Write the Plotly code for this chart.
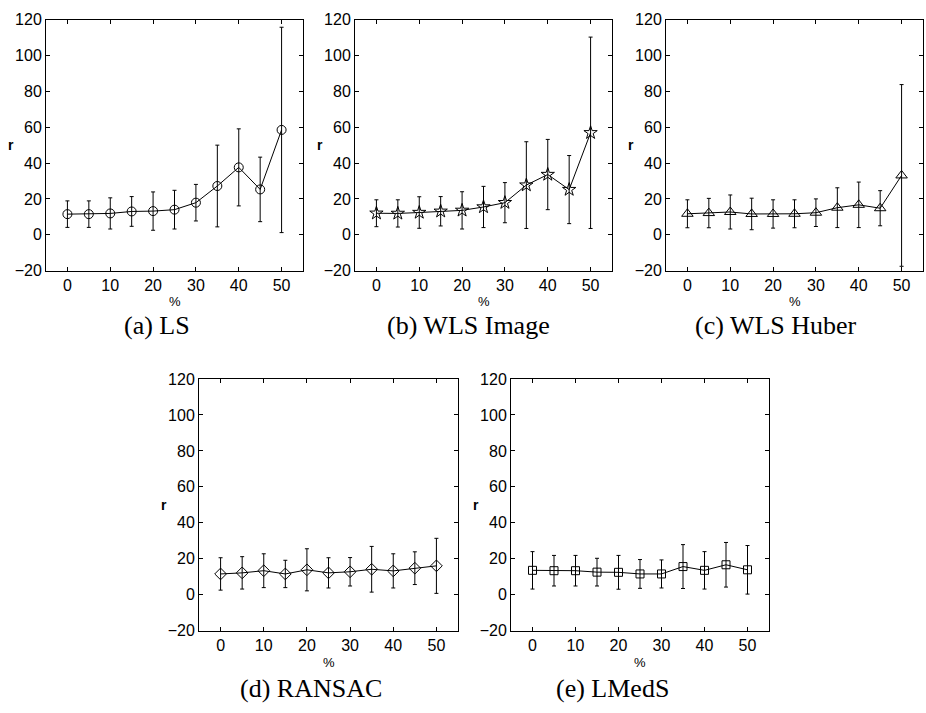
import plotly.graph_objs as go

W, H = 926, 713

pct = [0, 5, 10, 15, 20, 25, 30, 35, 40, 45, 50]

ls_mean = [11.5, 11.5, 11.9, 13.0, 13.2, 14.0, 17.9, 27.2, 37.6, 25.3, 58.5]
ls_err = [7.4, 7.4, 8.7, 8.3, 10.7, 10.8, 10.2, 22.8, 21.5, 18.0, 57.3]

wlsi_mean = [12.0, 11.9, 12.4, 13.1, 13.6, 15.5, 17.9, 27.7, 33.6, 25.2, 56.9]
wlsi_err = [7.5, 7.6, 8.8, 8.2, 10.4, 11.5, 11.2, 24.2, 19.6, 19.0, 53.4]

wlsh_mean = [11.7, 12.1, 12.7, 11.6, 11.6, 11.7, 12.3, 15.1, 16.7, 14.8, 33.1]
wlsh_err = [7.8, 8.2, 9.5, 8.8, 7.9, 7.8, 7.7, 11.1, 12.7, 9.8, 50.7]

ransac_mean = [11.6, 12.2, 13.4, 11.6, 13.9, 12.2, 12.8, 14.2, 13.3, 14.8, 16.1]
ransac_err = [9.0, 9.0, 9.4, 7.6, 11.7, 8.4, 7.9, 12.7, 9.5, 9.1, 15.3]

lmeds_mean = [13.6, 13.4, 13.4, 12.6, 12.5, 11.6, 11.6, 15.7, 13.6, 16.7, 13.9]
lmeds_err = [10.4, 8.5, 8.5, 7.7, 9.4, 8.0, 7.8, 12.2, 10.4, 12.4, 13.5]

xticks = [0, 10, 20, 30, 40, 50]
yticks = [-20, 0, 20, 40, 60, 80, 100, 120]

captions = ['(a) LS', '(b) WLS Image', '(c) WLS Huber', '(d) RANSAC', '(e) LMedS']

# panel boxes in px: left, right, top, bottom
boxes = [(46, 303, 12, 269), (355, 612, 12, 269), (666, 923, 12, 269),
         (199, 458, 380, 638), (511, 769, 380, 638)]
symbols = ['circle-open', 'star-open', 'triangle-up-open', 'diamond-open', 'square-open']
msizes = [9, 10, 10, 9, 8]
series = [(ls_mean, ls_err), (wlsi_mean, wlsi_err), (wlsh_mean, wlsh_err),
          (ransac_mean, ransac_err), (lmeds_mean, lmeds_err)]
cap_x = [157, 468, 776, 311, 612]
cap_y = [325, 325, 325, 697, 697]

tick_font = dict(family='Liberation Sans, Arial', size=16, color='black')


def note(text, px, py, size, family='Liberation Sans, Arial'):
    return dict(text=text, x=px / W, y=1 - py / H, xref='paper', yref='paper',
                xanchor='center', yanchor='middle', showarrow=False,
                font=dict(family=family, size=size, color='black'))


fig = go.Figure()
layout = dict(width=W, height=H, margin=dict(l=0, r=0, t=0, b=0),
              paper_bgcolor='white', plot_bgcolor='white', showlegend=False)
annotations = []

for i, (m, e) in enumerate(series):
    n = '' if i == 0 else str(i + 1)
    fig.add_trace(go.Scatter(x=pct, y=m, mode='lines+markers', xaxis='x' + n, yaxis='y' + n,
                             line=dict(color='black', width=1),
                             marker=dict(symbol=symbols[i], size=msizes[i], color='black',
                                         line=dict(color='black', width=1)),
                             error_y=dict(type='data', array=e, visible=True, color='black',
                                          thickness=1, width=2)))
    l, r, t, b = boxes[i]
    layout['xaxis' + n] = dict(domain=[l / W, r / W], anchor='y' + n, range=[-5, 55],
                               tickvals=xticks, ticks='inside', ticklen=4, tickcolor='black',
                               showline=True, linecolor='black', linewidth=1, mirror='ticks',
                               showgrid=False, zeroline=False, tickfont=tick_font)
    layout['yaxis' + n] = dict(domain=[1 - b / H, 1 - t / H], anchor='x' + n, range=[-20, 120],
                               tickvals=yticks, ticks='inside', ticklen=4, tickcolor='black',
                               showline=True, linecolor='black', linewidth=1, mirror='ticks',
                               showgrid=False, zeroline=False, tickfont=tick_font)
    annotations.append(note('%', (l + r) / 2, b + 32, 13))
    annotations.append(note('<b>r</b>', l - 35, (t + b) / 2, 14))
    annotations.append(note(captions[i], cap_x[i], cap_y[i], 26, 'Liberation Serif, serif'))

layout['annotations'] = annotations
fig.update_layout(**layout)
# page has a default 8px body margin, drop it so the figure sits at 0,0
fig.write_html("out.html", config={'displayModeBar': False},
               post_script="document.body.style.margin='0px';")
